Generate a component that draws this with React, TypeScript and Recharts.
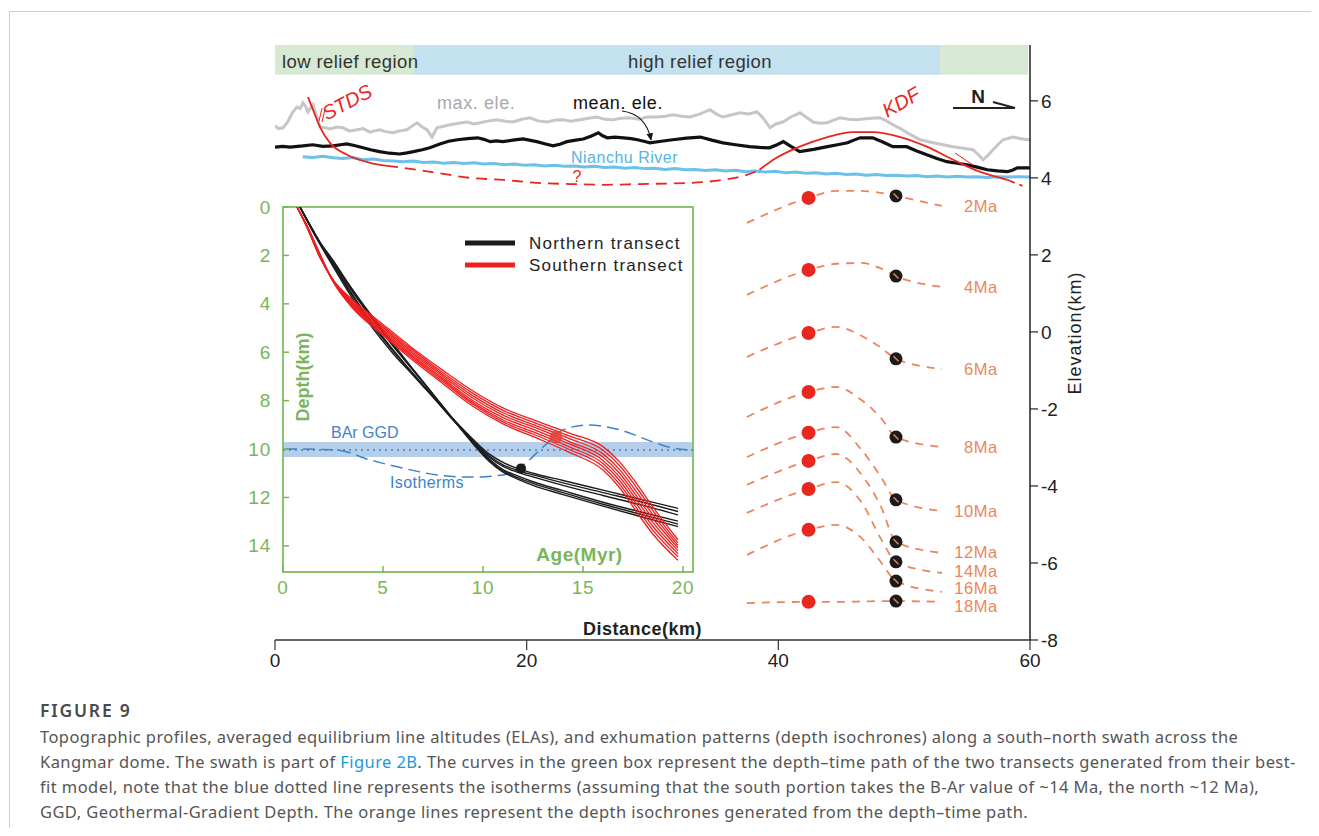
import React from 'react';
import { ComposedChart, Line, XAxis, YAxis, ReferenceArea, ReferenceLine, ReferenceDot } from 'recharts';

// ---------- main profile (distance km vs elevation km) ----------
const DIST_TICKS = [0, 20, 40, 60];
const ELEV_TICKS = [-8, -6, -4, -2, 0, 2, 4, 6];

const MAX_ELE = [
  [0, 5.35], [0.3, 5.28], [0.64, 5.3], [1.0, 5.45], [1.4, 5.7], [1.75, 5.84], [2.0, 5.8], [2.23, 5.95], [2.45, 5.85],
  [2.62, 5.71], [2.8, 5.8], [3.02, 5.9], [3.3, 5.6], [3.58, 5.32], [3.97, 5.3], [4.4, 5.27], [4.9, 5.32], [5.4, 5.3],
  [5.9, 5.22], [6.52, 5.25], [7.0, 5.28], [7.55, 5.19], [7.9, 5.22], [8.35, 5.25], [8.8, 5.2], [9.38, 5.17], [9.9, 5.22],
  [10.49, 5.25], [10.9, 5.35], [11.29, 5.43], [11.7, 5.32], [12.08, 5.25], [12.48, 5.06], [12.87, 5.3], [13.4, 5.34],
  [13.91, 5.38], [14.6, 5.42], [15.26, 5.45], [15.8, 5.4], [16.29, 5.43], [17.0, 5.48], [17.64, 5.51], [18.3, 5.47],
  [18.91, 5.45], [19.6, 5.52], [20.27, 5.56], [20.9, 5.48], [21.62, 5.45], [22.3, 5.5], [22.89, 5.51], [23.5, 5.47],
  [24.24, 5.51], [24.9, 5.55], [25.59, 5.58], [26.2, 5.52], [26.86, 5.51], [27.5, 5.55], [28.21, 5.56], [28.9, 5.52],
  [29.56, 5.58], [30.36, 5.58], [31.0, 5.6], [31.63, 5.64], [32.3, 5.6], [32.98, 5.58], [33.8, 5.66], [34.57, 5.77],
  [35.1, 5.65], [35.6, 5.58], [36.3, 5.64], [36.95, 5.69], [37.6, 5.66], [38.31, 5.71], [38.8, 5.55], [39.34, 5.3],
  [39.8, 5.4], [40.37, 5.45], [41.0, 5.58], [41.72, 5.69], [42.2, 5.58], [42.76, 5.45], [43.3, 5.42], [43.87, 5.43],
  [44.4, 5.5], [44.9, 5.56], [45.6, 5.52], [46.25, 5.51], [47.1, 5.54], [48.08, 5.56], [48.6, 5.48], [49.11, 5.38],
  [49.7, 5.28], [50.23, 5.17], [50.8, 5.07], [51.26, 4.99], [51.8, 4.95], [52.29, 4.91], [53.1, 4.86], [53.88, 4.81],
  [54.7, 4.77], [55.47, 4.73], [55.9, 4.6], [56.27, 4.47], [56.7, 4.6], [57.06, 4.73], [57.5, 4.88], [57.86, 4.99],
  [58.3, 5.03], [58.65, 5.06], [59.2, 5.02], [59.76, 4.99], [60, 5.0],
];

const MEAN_ELE = [
  [0, 4.8], [0.6, 4.82], [1.2, 4.8], [2.2, 4.83], [3.0, 4.86], [3.8, 4.82], [4.6, 4.83], [5.2, 4.86], [5.7, 4.88],
  [6.3, 4.84], [7.0, 4.78], [7.6, 4.73], [8.3, 4.68], [9.1, 4.64], [9.9, 4.62], [10.5, 4.65], [11.0, 4.68], [11.7, 4.73],
  [12.3, 4.78], [13.1, 4.88], [13.8, 4.95], [14.5, 4.99], [15.3, 5.02], [16.1, 5.04], [16.6, 5.0], [17.1, 4.94],
  [17.6, 4.96], [18.1, 4.94], [18.9, 4.98], [19.7, 5.01], [20.2, 4.98], [20.8, 4.94], [21.5, 4.88], [22.1, 4.83],
  [22.7, 4.88], [23.2, 4.94], [23.9, 4.98], [24.5, 5.01], [25.1, 5.08], [25.7, 5.17], [26.0, 5.1], [26.4, 5.04],
  [27.0, 5.06], [27.7, 5.04], [28.3, 5.02], [28.8, 4.99], [29.3, 4.95], [29.8, 4.91], [30.7, 4.95], [31.6, 4.99],
  [32.7, 5.03], [33.8, 5.06], [34.7, 4.98], [35.6, 4.91], [36.6, 4.86], [37.7, 4.81], [38.5, 4.79], [39.3, 4.78],
  [39.9, 4.86], [40.4, 4.94], [41.0, 4.82], [41.7, 4.68], [42.8, 4.74], [43.9, 4.81], [44.7, 4.86], [45.5, 4.91],
  [46.0, 4.98], [46.5, 5.04], [47.5, 5.04], [48.3, 4.93], [49.1, 4.81], [50.2, 4.81], [51.0, 4.7], [51.8, 4.6],
  [52.6, 4.5], [53.4, 4.42], [54.2, 4.38], [55.0, 4.34], [55.8, 4.28], [56.6, 4.21], [57.4, 4.18], [58.2, 4.16],
  [58.6, 4.2], [59.0, 4.26], [60, 4.26],
];

const RIVER = [
  [2.2, 4.55], [3.0, 4.53], [3.8, 4.56], [4.6, 4.52], [5.4, 4.5], [6.2, 4.53], [7.0, 4.47], [7.8, 4.49], [8.6, 4.45],
  [9.4, 4.44], [10.2, 4.42], [11.0, 4.44], [11.8, 4.4], [12.6, 4.41], [13.4, 4.38], [14.2, 4.4], [15.0, 4.37],
  [15.8, 4.39], [16.6, 4.36], [17.4, 4.37], [18.2, 4.34], [19.0, 4.36], [19.8, 4.33], [20.6, 4.34], [21.4, 4.31],
  [22.2, 4.33], [23.0, 4.3], [23.8, 4.31], [24.6, 4.28], [25.4, 4.3], [26.2, 4.27], [27.0, 4.28], [27.8, 4.25],
  [28.6, 4.27], [29.4, 4.24], [30.2, 4.25], [31.0, 4.22], [31.8, 4.24], [32.6, 4.21], [33.4, 4.22], [34.2, 4.19],
  [35.0, 4.21], [35.8, 4.18], [36.6, 4.2], [37.4, 4.16], [38.2, 4.18], [39.0, 4.15], [39.8, 4.17], [40.6, 4.13],
  [41.4, 4.15], [42.2, 4.12], [43.0, 4.13], [43.8, 4.1], [44.6, 4.12], [45.4, 4.09], [46.2, 4.1], [47.0, 4.07],
  [47.8, 4.09], [48.6, 4.06], [49.4, 4.07], [50.2, 4.05], [51.0, 4.06], [51.8, 4.03], [52.6, 4.05], [53.4, 4.02],
  [54.2, 4.04], [55.0, 4.02], [55.8, 4.03], [56.6, 4.01], [57.4, 4.03], [58.2, 4.02], [59.0, 4.03], [60, 4.02],
];

// faults
const STDS_SOLID = [[2.62, 6.1], [3.02, 5.77], [3.58, 5.32], [4.37, 4.91], [5.72, 4.6], [7.55, 4.39], [8.9, 4.31]];
const FAULT_DASHED = [
  [8.9, 4.31], [10.17, 4.26], [12.87, 4.13], [15.5, 4.0], [18.1, 3.95], [20.8, 3.87], [23.4, 3.84], [26.1, 3.82],
  [29.0, 3.84], [33.0, 3.87], [35.6, 3.95], [37.5, 4.08], [38.5, 4.21],
];
const KDF_SOLID = [
  [38.5, 4.21], [39.6, 4.47], [41.7, 4.81], [43.9, 5.06], [45.9, 5.19], [47.5, 5.19], [49.7, 5.06], [51.8, 4.81],
  [53.9, 4.47], [56.0, 4.16], [58.2, 3.95],
];
const KDF_DASHED = [[58.2, 3.95], [59.4, 3.79]];

// depth isochrones
const ISO_X = [37.5, 42.4, 44.6, 46.6, 48.2, 49.35, 53.0];
const ISO_LABELS = ['2Ma', '4Ma', '6Ma', '8Ma', '10Ma', '12Ma', '14Ma', '16Ma', '18Ma'];
const ISO_ELEV = [
  [2.83, 3.48, 3.66, 3.66, 3.61, 3.53, 3.27],
  [0.96, 1.61, 1.77, 1.79, 1.64, 1.45, 1.17],
  [-0.65, -0.03, 0.13, -0.1, -0.42, -0.7, -0.96],
  [-2.21, -1.56, -1.43, -1.77, -2.25, -2.73, -2.99],
  [-3.25, -2.62, -2.47, -3.06, -3.79, -4.36, -4.65],
  [-3.97, -3.35, -3.17, -3.7, -4.57, -5.45, -5.74],
  [-4.7, -4.08, -3.9, -4.42, -5.4, -5.97, -6.26],
  [-5.79, -5.14, -5.01, -5.35, -6.0, -6.47, -6.75],
  [-7.04, -7.01, -7.01, -7.0, -6.99, -6.99, -7.01],
];
const SOUTH_IDX = 1; // red sample position on each isochrone
const NORTH_IDX = 5; // black sample position

// ---------- inset (age Myr vs depth km) ----------
const AGE_TICKS = [0, 5, 10, 15, 20];
const DEPTH_TICKS = [0, 2, 4, 6, 8, 10, 12, 14];

const NORTH_AGE = [0.85, 1.3, 1.85, 2.5, 3.3, 4.3, 5.5, 6.5, 7.5, 8.5, 9.5, 10.3, 11.0, 11.7, 12.5, 14.0, 16.0, 18.0, 19.75];
const NORTH_DEPTH = [
  [0, 0.72, 1.55, 2.45, 3.55, 4.8, 6.05, 6.95, 7.85, 8.75, 9.6, 10.2, 10.55, 10.8, 11.0, 11.3, 11.7, 12.1, 12.45],
  [0, 0.7, 1.5, 2.4, 3.45, 4.7, 5.95, 6.9, 7.85, 8.8, 9.65, 10.28, 10.65, 10.88, 11.07, 11.4, 11.8, 12.2, 12.58],
  [0, 0.68, 1.48, 2.35, 3.4, 4.6, 5.9, 6.88, 7.82, 8.78, 9.7, 10.33, 10.72, 10.95, 11.15, 11.5, 11.92, 12.33, 12.72],
  [0, 0.7, 1.5, 2.3, 3.3, 4.45, 5.75, 6.75, 7.75, 8.75, 9.72, 10.4, 10.85, 11.1, 11.35, 11.72, 12.2, 12.62, 12.98],
  [0, 0.68, 1.47, 2.25, 3.25, 4.4, 5.7, 6.72, 7.74, 8.76, 9.75, 10.45, 10.9, 11.17, 11.42, 11.8, 12.28, 12.72, 13.1],
  [0, 0.66, 1.45, 2.2, 3.2, 4.35, 5.65, 6.7, 7.72, 8.77, 9.78, 10.5, 10.95, 11.23, 11.5, 11.88, 12.36, 12.82, 13.2],
];

const SOUTH_AGE = [0.7, 1.2, 1.85, 2.5, 3.5, 4.85, 6.35, 8.0, 9.4, 11.0, 12.7, 14.35, 16.0, 16.85, 17.7, 18.5, 19.75];
const SOUTH_DEPTH = [
  [0, 0.85, 2.1, 3.0, 3.85, 4.75, 5.75, 6.75, 7.55, 8.3, 8.85, 9.35, 9.9, 10.55, 11.45, 12.4, 13.75],
  [0, 0.84, 2.08, 3.02, 3.9, 4.82, 5.82, 6.85, 7.65, 8.4, 8.95, 9.47, 10.05, 10.7, 11.62, 12.55, 13.88],
  [0, 0.82, 2.05, 3.03, 3.95, 4.88, 5.9, 6.93, 7.75, 8.5, 9.05, 9.58, 10.2, 10.87, 11.8, 12.72, 13.98],
  [0, 0.81, 2.02, 3.04, 4.0, 4.95, 5.97, 7.0, 7.85, 8.6, 9.15, 9.7, 10.33, 11.02, 11.97, 12.88, 14.08],
  [0, 0.8, 2.0, 3.05, 4.05, 5.02, 6.04, 7.08, 7.95, 8.7, 9.25, 9.8, 10.47, 11.17, 12.13, 13.04, 14.2],
  [0, 0.79, 1.98, 3.06, 4.1, 5.08, 6.1, 7.15, 8.03, 8.8, 9.35, 9.92, 10.6, 11.32, 12.3, 13.2, 14.32],
  [0, 0.78, 1.96, 3.07, 4.15, 5.14, 6.17, 7.22, 8.1, 8.88, 9.45, 10.03, 10.73, 11.47, 12.46, 13.36, 14.45],
  [0, 0.77, 1.94, 3.08, 4.2, 5.2, 6.24, 7.3, 8.18, 8.96, 9.55, 10.15, 10.87, 11.62, 12.62, 13.52, 14.6],
];

const ISOTHERM = [
  [0.1, 10.0], [0.35, 10.0], [2.7, 10.04], [4.35, 10.45], [6.0, 10.79], [7.7, 11.07], [9.35, 11.16], [11.0, 11.07],
  [12.0, 10.66], [13.0, 9.92], [14.0, 9.21], [15.2, 9.01], [16.85, 9.21], [18.5, 9.71], [19.5, 9.96], [20.35, 10.04],
];
const GGD_BAND = [9.71, 10.33];
const GGD_LINE = 10.04;
const SOUTH_BAR = [[13.65, 9.5]];
const NORTH_BAR = [[11.9, 10.8]];

// ---------- helpers ----------
const ORANGE = '#e9865c';
const RED = '#e8261e';
const GREEN = '#7ab55a';
const BLUE = '#3e84c8';
const LABEL_NUDGE = [0, 0, 0, 0, 0, -1, -2, -4, 4]; // px, keeps the crowded bottom labels apart

const pts = (arr: number[][]) => arr.map(([x, y]) => ({ x, y }));
const zip = (xs: number[], ys: number[]) => ys.map((y, i) => ({ x: xs[i], y }));

const isoLines = ISO_ELEV.map((row) => zip(ISO_X, row));
const redIsoDots = ISO_ELEV.map((row) => ({ x: ISO_X[SOUTH_IDX], y: row[SOUTH_IDX] }));
const blackIsoDots = ISO_ELEV.map((row) => ({ x: ISO_X[NORTH_IDX], y: row[NORTH_IDX] }));
const northLines = NORTH_DEPTH.map((row) => zip(NORTH_AGE, row));
const southLines = SOUTH_DEPTH.map((row) => zip(SOUTH_AGE, row));

const InsetXTick = (props: any) => {
  const { x, y, payload } = props;
  return (
    <g>
      <line x1={x} x2={x} y1={y - 15} y2={y - 21} stroke={GREEN} strokeWidth={1.5} />
      <text x={x} y={y} textAnchor="middle" dominantBaseline="central" fill={GREEN} fontSize={19} letterSpacing={0.8}>
        {payload.value}
      </text>
    </g>
  );
};

const InsetYTick = (props: any) => {
  const { x, y, payload } = props;
  return (
    <g>
      <line x1={x + 12} x2={x + 18} y1={y} y2={y} stroke={GREEN} strokeWidth={1.5} />
      <text x={x} y={y} textAnchor="end" dominantBaseline="central" fill={GREEN} fontSize={19} letterSpacing={0.8}>
        {payload.value}
      </text>
    </g>
  );
};

const BlackDot = (props: any) => {
  const { cx, cy } = props;
  if (cx == null || cy == null) return null;
  return (
    <g>
      <circle cx={cx} cy={cy} r={6.5} fill="#1a1a1a" />
      <line x1={cx - 2.5} y1={cy - 2.5} x2={cx + 2.5} y2={cy + 2.5} stroke={ORANGE} strokeWidth={1.4} />
    </g>
  );
};

const maLabel = (text: string, nudge: number) => (props: any) => {
  const { viewBox } = props;
  return (
    <text x={viewBox.x + 56} y={viewBox.y + nudge} textAnchor="end" dominantBaseline="central" fill={ORANGE} fontSize={16.5} letterSpacing={0.6}>
      {text}
    </text>
  );
};

const CAPTION = [
  'Topographic profiles, averaged equilibrium line altitudes (ELAs), and exhumation patterns (depth isochrones) along a south–north swath across the',
  'Kangmar dome. The swath is part of ',
  'fit model, note that the blue dotted line represents the isotherms (assuming that the south portion takes the B-Ar value of ~14 Ma, the north ~12 Ma),',
  'GGD, Geothermal-Gradient Depth. The orange lines represent the depth isochrones generated from the depth–time path.',
];

export default function App() {
  return (
    <div style={{ position: 'relative', width: 1303, height: 820, overflow: 'hidden', fontFamily: '"Liberation Sans", Arial, sans-serif' }}>
      <div style={{ position: 'absolute', left: 1, top: 3, width: 1400, height: 900, borderTop: '1px solid #cfcfcf', borderLeft: '1px solid #cfcfcf' }} />

      {/* main profile */}
      <div style={{ position: 'absolute', left: 0, top: 0 }}>
        <ComposedChart width={1303} height={700} margin={{ top: 37, right: 221, bottom: 28, left: 267 }}>
          <XAxis type="number" dataKey="x" domain={[0, 60]} ticks={DIST_TICKS} allowDataOverflow height={40}
            tickSize={10} tickMargin={4} tick={{ fontSize: 19, fill: '#222' }}
            axisLine={{ stroke: '#333', strokeWidth: 1.5 }} tickLine={{ stroke: '#333', strokeWidth: 1.2 }} />
          <YAxis type="number" dataKey="y" orientation="right" domain={[-8, 7.45]} ticks={ELEV_TICKS} allowDataOverflow width={60}
            tickSize={8} tickMargin={3} tick={{ fontSize: 19, fill: '#222' }}
            axisLine={{ stroke: '#222', strokeWidth: 1.5 }} tickLine={{ stroke: '#222', strokeWidth: 1.2 }} />

          <ReferenceArea x1={0} x2={11.05} y1={6.675} y2={7.45} fill="#d7e8d3" fillOpacity={1} stroke="none" />
          <ReferenceArea x1={11.05} x2={52.85} y1={6.675} y2={7.45} fill="#c4e1ef" fillOpacity={1} stroke="none" />
          <ReferenceArea x1={52.85} x2={59.85} y1={6.675} y2={7.45} fill="#d7e8d3" fillOpacity={1} stroke="none" />

          <Line data={pts(MAX_ELE)} dataKey="y" type="linear" stroke="#c6c6c6" strokeWidth={3} dot={false} isAnimationActive={false} />
          <Line data={pts(RIVER)} dataKey="y" type="linear" stroke="#6cc0ea" strokeWidth={3} dot={false} isAnimationActive={false} />
          <Line data={pts(MEAN_ELE)} dataKey="y" type="linear" stroke="#111" strokeWidth={3.2} dot={false} isAnimationActive={false} />

          <Line data={pts(STDS_SOLID)} dataKey="y" type="monotone" stroke={RED} strokeWidth={1.8} dot={false} isAnimationActive={false} />
          <Line data={pts(FAULT_DASHED)} dataKey="y" type="monotone" stroke={RED} strokeWidth={1.8} strokeDasharray="11 7" dot={false} isAnimationActive={false} />
          <Line data={pts(KDF_SOLID)} dataKey="y" type="monotone" stroke={RED} strokeWidth={1.8} dot={false} isAnimationActive={false} />
          <Line data={pts(KDF_DASHED)} dataKey="y" type="linear" stroke={RED} strokeWidth={1.8} strokeDasharray="8 5" dot={false} isAnimationActive={false} />

          {isoLines.map((d, i) => (
            <Line key={ISO_LABELS[i]} data={d} dataKey="y" type="monotone" stroke={ORANGE} strokeWidth={1.8}
              strokeDasharray="8 7" dot={false} isAnimationActive={false} />
          ))}
          <Line data={blackIsoDots} dataKey="y" stroke="none" dot={(p: any) => <BlackDot key={'b' + p.index} {...p} />} isAnimationActive={false} />
          <Line data={redIsoDots} dataKey="y" stroke="none" dot={{ r: 7, fill: '#e8271f', stroke: 'none' }} isAnimationActive={false} />
          {isoLines.map((d, i) => (
            <ReferenceDot key={'l' + i} x={d[d.length - 1].x} y={d[d.length - 1].y} r={0} fill="none" stroke="none"
              label={maLabel(ISO_LABELS[i], LABEL_NUDGE[i])} />
          ))}
        </ComposedChart>
      </div>

      {/* inset depth-time paths */}
      <div style={{ position: 'absolute', left: 212, top: 187 }}>
        <ComposedChart width={500} height={420} margin={{ top: 12, right: 27, bottom: 13, left: 23 }}>
          <XAxis type="number" dataKey="x" domain={[0, 20.5]} ticks={AGE_TICKS} allowDataOverflow height={30}
            tickSize={0} tickMargin={15} axisLine={false} tickLine={false} tick={(p: any) => <InsetXTick {...p} />} />
          <YAxis type="number" dataKey="y" domain={[0, 15.08]} reversed ticks={DEPTH_TICKS} allowDataOverflow width={40}
            tickSize={0} tickMargin={12} axisLine={false} tickLine={false} tick={(p: any) => <InsetYTick {...p} />} />

          <ReferenceArea x1={0} x2={20.5} y1={GGD_BAND[0]} y2={GGD_BAND[1]} fill="#b5cee9" fillOpacity={1} stroke="none" />
          <ReferenceLine y={GGD_LINE} stroke={BLUE} strokeWidth={1.6} strokeDasharray="2 4" />
          <Line data={pts(ISOTHERM)} dataKey="y" type="monotone" stroke={BLUE} strokeWidth={1.5} strokeDasharray="12 6" dot={false} isAnimationActive={false} />

          {northLines.map((d, i) => (
            <Line key={'n' + i} data={d} dataKey="y" type="monotone" stroke="#1c1c1c" strokeWidth={1.4} dot={false} isAnimationActive={false} />
          ))}
          {southLines.map((d, i) => (
            <Line key={'s' + i} data={d} dataKey="y" type="monotone" stroke="#f01e1e" strokeWidth={1.3} dot={false} isAnimationActive={false} />
          ))}
          <Line data={pts(NORTH_BAR)} dataKey="y" stroke="none" dot={{ r: 5, fill: '#1a1a1a', stroke: 'none' }} isAnimationActive={false} />
          <Line data={pts(SOUTH_BAR)} dataKey="y" stroke="none" dot={{ r: 6.5, fill: '#e8413a', fillOpacity: 0.85, stroke: 'none' }} isAnimationActive={false} />

          <ReferenceArea x1={0} x2={20.5} y1={0} y2={15.08} fill="none" stroke="#8cc36c" strokeWidth={2} />
        </ComposedChart>
      </div>

      {/* annotations */}
      <svg width={1303} height={700} style={{ position: 'absolute', left: 0, top: 0, pointerEvents: 'none' }}>
        <defs>
          <marker id="ah" viewBox="0 0 10 10" refX="8" refY="5" markerWidth="7" markerHeight="7" orient="auto">
            <path d="M0,1 L9,5 L0,9 Z" fill="#111" />
          </marker>
        </defs>
        <text x={274} y={53} dominantBaseline="central" fontSize={18.5} fill="#333" letterSpacing={0.4}>low relief region</text>
        <text x={692} y={53} textAnchor="middle" dominantBaseline="central" fontSize={18.5} fill="#333" letterSpacing={0.4}>high relief region</text>
        <text x={429} y={95} dominantBaseline="central" fontSize={18} fill="#a9a9a9" letterSpacing={0.6}>max. ele.</text>
        <text x={565} y={95} dominantBaseline="central" fontSize={18} fill="#111" letterSpacing={0.6}>mean. ele.</text>
        <path d="M 614 103 Q 638 106 643 132" fill="none" stroke="#111" strokeWidth={1.2} markerEnd="url(#ah)" />
        <text x={563} y={149} dominantBaseline="central" fontSize={16} fill="#55b4e4" letterSpacing={0.5}>Nianchu River</text>
        <text x={569} y={168} textAnchor="middle" dominantBaseline="central" fontSize={16} fill={RED}>?</text>
        <text x={339} y={94} textAnchor="middle" dominantBaseline="central" fontSize={20} fontStyle="italic" fill={RED}
          transform="rotate(-28 339 94)">STDS</text>
        <line x1={311} y1={113} x2={314} y2={100} stroke={RED} strokeWidth={1} />
        <line x1={314} y1={114} x2={317} y2={101} stroke={RED} strokeWidth={1} />
        <text x={893} y={94} textAnchor="middle" dominantBaseline="central" fontSize={20} fontStyle="italic" fill={RED}
          transform="rotate(-30 893 94)">KDF</text>
        <line x1={947} y1={145} x2={965} y2={157} stroke={RED} strokeWidth={1} />
        <text x={970} y={88} textAnchor="middle" dominantBaseline="central" fontSize={19} fontWeight="bold" fill="#222">N</text>
        <line x1={945} y1={100} x2={1007} y2={100} stroke="#222" strokeWidth={2.2} />
        <line x1={985} y1={94} x2={1007} y2={100} stroke="#222" strokeWidth={2.2} />
        <text x={634.5} y={621} textAnchor="middle" dominantBaseline="central" fontSize={18} fontWeight="bold" fill="#222" letterSpacing={0.5}>Distance(km)</text>
        <text x={1067} y={325} textAnchor="middle" dominantBaseline="central" fontSize={18} fill="#222" letterSpacing={1}
          transform="rotate(-90 1067 325)">Elevation(km)</text>

        <text x={295} y={369} textAnchor="middle" dominantBaseline="central" fontSize={18} fontWeight="bold" fill={GREEN}
          transform="rotate(-90 295 369)">Depth(km)</text>
        <text x={571.5} y={546} textAnchor="middle" dominantBaseline="central" fontSize={19} fontWeight="bold" fill={GREEN} letterSpacing={0.5}>Age(Myr)</text>
        <text x={323} y={424} dominantBaseline="central" fontSize={16} fill={BLUE}>BAr GGD</text>
        <text x={382} y={474} dominantBaseline="central" fontSize={16} fill={BLUE} letterSpacing={0.4}>Isotherms</text>
        <line x1={457} y1={235} x2={507} y2={235} stroke="#1a1a1a" strokeWidth={5} />
        <text x={521} y={235} dominantBaseline="central" fontSize={17} fill="#222" letterSpacing={1.2}>Northern transect</text>
        <line x1={457} y1={257} x2={507} y2={257} stroke="#ee2020" strokeWidth={5} />
        <text x={521} y={257} dominantBaseline="central" fontSize={17} fill="#222" letterSpacing={1.2}>Southern transect</text>
      </svg>

      {/* caption */}
      <div style={{ position: 'absolute', left: 32, top: 692, fontFamily: '"Noto Sans", "Open Sans", sans-serif', color: '#555', whiteSpace: 'nowrap' }}>
        <div style={{ fontSize: 17.5, lineHeight: '20px', fontWeight: 600, color: '#4a4a4a', letterSpacing: 1.8 }}>FIGURE 9</div>
        <div style={{ fontSize: 16.5, lineHeight: '25px', marginTop: 3.5, letterSpacing: 0.42 }}>
          <div>{CAPTION[0]}</div>
          <div>
            {CAPTION[1]}<span style={{ color: '#1a9bd7' }}>Figure 2B</span>. The curves in the green box represent the depth–time path of the two transects generated from their best-
          </div>
          <div>{CAPTION[2]}</div>
          <div>{CAPTION[3]}</div>
        </div>
      </div>
    </div>
  );
}
